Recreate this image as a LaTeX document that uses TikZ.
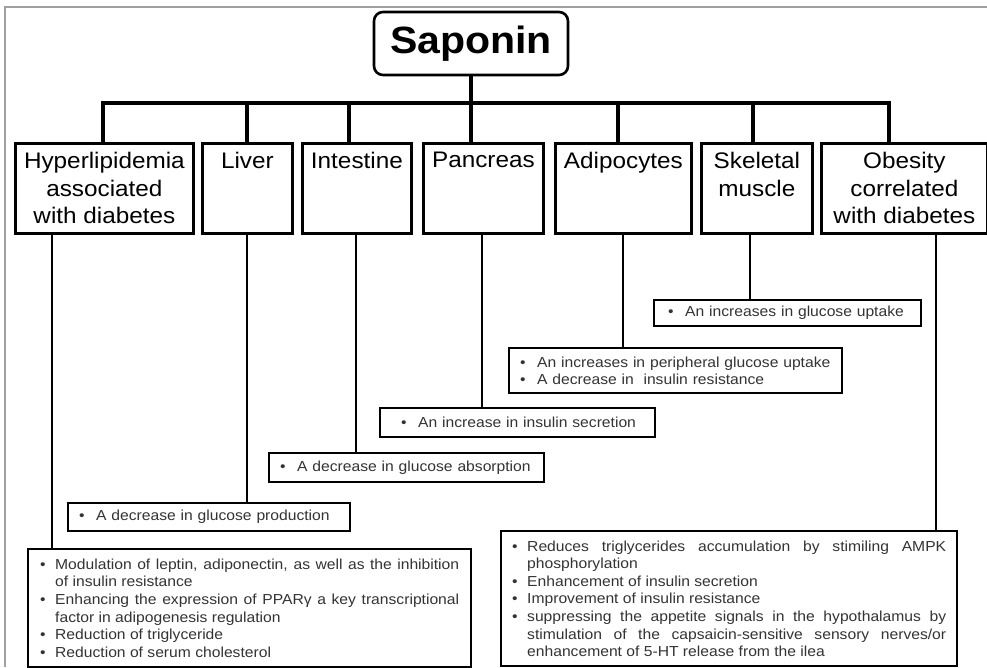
\documentclass[tikz,border=0pt]{standalone}
\usepackage{fontspec}
\setmainfont{Liberation Sans}[FakeStretch=1.08]
\definecolor{txt}{HTML}{333333}
\definecolor{frame}{HTML}{A0A0A0}
\newcommand\bodyfont{\fontsize{14.5}{17.6}\selectfont}
\newcommand\hb[3]{\parbox[t][#2pt][t]{#1pt}{\centering\vspace*{9pt}\fontsize{22.5}{27.5}\selectfont #3}}
\newcommand\bi[2][14]{\hangindent=#1pt\hangafter=1\noindent\makebox[#1pt][l]{\textbullet}#2\par}
\newcommand\sbul[1]{\makebox[17pt][l]{\textbullet}#1}
\begin{document}
\begin{tikzpicture}[x=1pt,y=-1pt,
  hbox/.style={draw, line width=2.8pt, anchor=north west, inner sep=0pt, text=black},
  rbox/.style={draw, line width=2.4pt, anchor=north west, inner xsep=11pt, inner ysep=4pt, align=left, font=\bodyfont, text=txt},
  jbox/.style={rbox, align=justify},
  upl/.style={line width=3.2pt},
  lowl/.style={line width=2.6pt}]
\useasboundingbox (0,0) rectangle (987,667);
\draw[frame, line width=1.8pt] (5,667) -- (5,7) -- (987,7);

% root
\node[draw, rounded corners=9pt, line width=2.6pt, minimum width=194pt, minimum height=63pt,
      font=\bfseries\fontsize{38}{40}\selectfont] (sap) at (471,43.5) {Saponin};

% header boxes
\node[hbox] (h1) at (14,142) {\hb{178}{90}{Hyperlipidemia\\associated\\with diabetes}};
\node[hbox] (h2) at (201,142) {\hb{90}{90}{Liver}};
\node[hbox] (h3) at (301,142) {\hb{109}{90}{Intestine}};
\node[hbox] (h4) at (422,142) {\hb{120}{90}{Pancreas}};
\node[hbox] (h5) at (554,142) {\hb{136}{90}{Adipocytes}};
\node[hbox] (h6) at (700,142) {\hb{111}{90}{Skeletal\\muscle}};
\node[hbox] (h7) at (820,142) {\hb{166}{90}{Obesity\\correlated\\with diabetes}};

% result boxes
\node[rbox, text width=260pt, minimum height=28pt] (r2) at (67,502) {\sbul{A decrease in glucose production}};
\node[rbox, text width=253pt, minimum height=29pt] (r3) at (268,452) {\sbul{A decrease in glucose absorption}};
\node[rbox, text width=253pt, minimum height=29pt] (r4) at (379,407) {\hspace{10pt}\sbul{An increase in insulin secretion}};
\node[rbox, text width=311pt, minimum height=45pt] (r5) at (508,347) {\bi[17]{An increases in peripheral glucose uptake}\bi[17]{A decrease in\ \ insulin resistance}};
\node[rbox, text width=245pt, minimum height=26pt] (r6) at (653,299) {\hspace{3pt}\sbul{An increases in glucose uptake}};
\node[jbox, text width=419pt, minimum height=118pt, inner xsep=12pt] (r1) at (27,548) {%
\bi[15]{Modulation of leptin, adiponectin, as well as the inhibition\linebreak of insulin resistance}%
\bi[15]{Enhancing the expression of PPARγ a key transcriptional\linebreak factor in adipogenesis regulation}%
\bi[15]{Reduction of triglyceride}%
\bi[15]{Reduction of serum cholesterol}};
\node[jbox, text width=434pt, minimum height=135pt] (r7) at (500,530) {%
\bi[15]{Reduces triglycerides accumulation by stimiling AMPK\linebreak phosphorylation}%
\bi[15]{Enhancement of insulin secretion}%
\bi[15]{Improvement of insulin resistance}%
\bi[15]{suppressing the appetite signals in the hypothalamus by\linebreak stimulation of the capsaicin-sensitive sensory nerves/or\linebreak enhancement of 5-HT release from the ilea}};

% upper connectors
\coordinate (barL) at (103,103);
\coordinate (barR) at (889,103);
\draw[upl, line cap=rect] (barL) -- (barR);
\draw[upl] (sap.south) -- (sap.south |- barL);
\foreach \n/\x in {1/103,2/247,3/349,4/471,5/618,6/753,7/889}{
  \coordinate (d\n) at (\x,103);
  \draw[upl] (d\n) -- (d\n |- h\n.north);
}
% lower connectors
\foreach \n/\x in {1/52,2/247,3/356,4/482,5/623,6/750,7/936}{
  \coordinate (u\n) at (\x,0);
  \draw[lowl] (u\n |- h\n.south) -- (u\n |- r\n.north);
}
\end{tikzpicture}
\end{document}
